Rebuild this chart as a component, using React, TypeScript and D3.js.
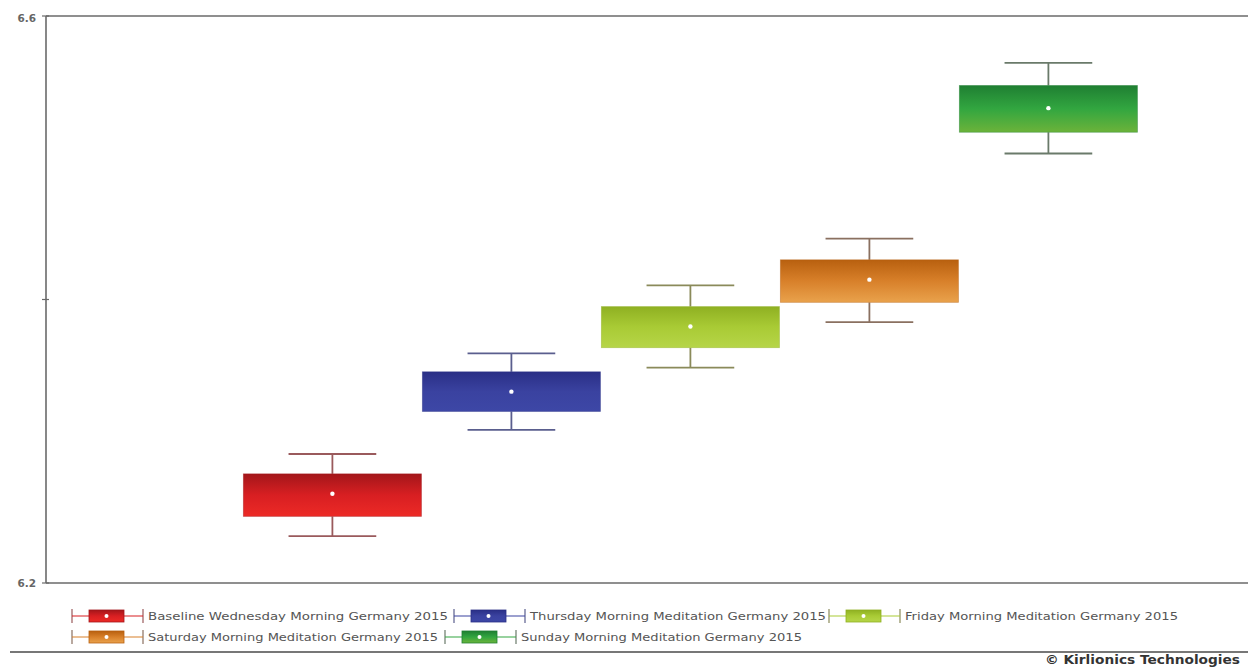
import React from "react";
import * as d3 from "d3";

const categories = [
  "Baseline Wednesday Morning Germany 2015",
  "Thursday Morning Meditation Germany 2015",
  "Friday Morning Meditation Germany 2015",
  "Saturday Morning Meditation Germany 2015",
  "Sunday Morning Meditation Germany 2015",
];
const whiskerLow = [6.233, 6.308, 6.352, 6.384, 6.503];
const q1 = [6.247, 6.321, 6.366, 6.398, 6.518];
const mean = [6.263, 6.335, 6.381, 6.414, 6.535];
const q3 = [6.277, 6.349, 6.395, 6.428, 6.551];
const whiskerHigh = [6.291, 6.362, 6.41, 6.443, 6.567];
const yTicks = [6.2, 6.4, 6.6];
const yTickLabels = ["6.2", "", "6.6"];

const topColors = ["#a3161a", "#2a2f86", "#8fb022", "#b8600f", "#1f7f32"];
const midColors = ["#d81f22", "#3a42a0", "#a9cb35", "#d8802a", "#32a640"];
const botColors = ["#ec2a26", "#3d47a6", "#b6d548", "#e9a24c", "#6cb33a"];
const whiskerColors = ["#9a5a5c", "#5a5e8e", "#8a8a5a", "#8a7060", "#6a7a6a"];

// legend layout: rows of item indices
const legendRows = [[0, 1, 2], [3, 4]];
const legendItemX = [[72, 454, 829], [72, 445]];
const legendTextLen = [[300, 296, 273], [290, 281]];

export default function App() {
  const W = 1248;
  const H = 667;
  const x = d3.scaleLinear().domain([-1.6, 5.2]).range([46, 46 + 6.8 * 179]);
  const y = d3.scaleLinear().domain([6.2, 6.6]).range([583, 16]);
  const step = x(1) - x(0);
  const boxW = step * 0.995;
  const capW = step * 0.49;

  return (
    <svg width={W} height={H} style={{ display: "block", position: "absolute", left: 0, top: 0 }}>
      <defs>
        {categories.map((_, i) => (
          <linearGradient key={i} id={`g${i}`} x1="0" y1="0" x2="0" y2="1">
            <stop offset="0%" stopColor={topColors[i]} />
            <stop offset="50%" stopColor={midColors[i]} />
            <stop offset="100%" stopColor={botColors[i]} />
          </linearGradient>
        ))}
      </defs>
      <rect x={0} y={0} width={W} height={H} fill="#fff" />

      {/* frame */}
      <line x1={46} x2={W} y1={y(6.6)} y2={y(6.6)} stroke="#6a6a6a" strokeWidth={1.6} />
      <line x1={46} x2={W} y1={y(6.2)} y2={y(6.2)} stroke="#6a6a6a" strokeWidth={1.6} />
      <line x1={46} x2={46} y1={y(6.6)} y2={y(6.2)} stroke="#6a6a6a" strokeWidth={1.6} />
      {yTicks.map((t, i) => (
        <g key={t}>
          <line x1={42} x2={49} y1={y(t)} y2={y(t)} stroke="#6a6a6a" strokeWidth={1.2} />
          {yTickLabels[i] && (
            <text x={36} y={y(t) + (i === 0 ? 4 : 6)} textAnchor="end" fontFamily="DejaVu Sans, sans-serif" fontSize={10.5} fontWeight="bold" fill="#666">
              {yTickLabels[i]}
            </text>
          )}
        </g>
      ))}

      {/* boxes */}
      {categories.map((c, i) => {
        const cx = x(i);
        return (
          <g key={c}>
            <line x1={cx} x2={cx} y1={y(whiskerHigh[i])} y2={y(q3[i])} stroke={whiskerColors[i]} strokeWidth={1.8} />
            <line x1={cx} x2={cx} y1={y(q1[i])} y2={y(whiskerLow[i])} stroke={whiskerColors[i]} strokeWidth={1.8} />
            <line x1={cx - capW / 2} x2={cx + capW / 2} y1={y(whiskerHigh[i])} y2={y(whiskerHigh[i])} stroke={whiskerColors[i]} strokeWidth={1.8} />
            <line x1={cx - capW / 2} x2={cx + capW / 2} y1={y(whiskerLow[i])} y2={y(whiskerLow[i])} stroke={whiskerColors[i]} strokeWidth={1.8} />
            <rect x={cx - boxW / 2} y={y(q3[i])} width={boxW} height={y(q1[i]) - y(q3[i])} fill={`url(#g${i})`} stroke={topColors[i]} strokeOpacity={0.5} strokeWidth={0.8} />
            <circle cx={cx} cy={y(mean[i])} r={2.2} fill="#fff" />
          </g>
        );
      })}

      {/* legend */}
      {legendRows.map((row, r) =>
        row.map((idx, k) => {
          const lx = legendItemX[r][k];
          const ly = 616 + r * 21;
          return (
            <g key={idx}>
              <line x1={lx} x2={lx} y1={ly - 7} y2={ly + 7} stroke={whiskerColors[idx]} strokeWidth={1.2} />
              <line x1={lx + 71} x2={lx + 71} y1={ly - 7} y2={ly + 7} stroke={whiskerColors[idx]} strokeWidth={1.2} />
              <line x1={lx} x2={lx + 71} y1={ly} y2={ly} stroke={midColors[idx]} strokeWidth={1.2} />
              <rect x={lx + 17} y={ly - 6} width={35} height={12} fill={`url(#g${idx})`} stroke={topColors[idx]} strokeWidth={0.8} />
              <circle cx={lx + 34.5} cy={ly} r={2} fill="#fff" />
              <text x={lx + 76} y={ly + 4} fontFamily="DejaVu Sans, sans-serif" fontSize={11} fill="#555" textLength={legendTextLen[r][k]} lengthAdjust="spacingAndGlyphs">
                {categories[idx]}
              </text>
            </g>
          );
        })
      )}

      <line x1={10} x2={W} y1={652} y2={652} stroke="#777" strokeWidth={1.8} />
      <text x={1045} y={664} fontFamily="DejaVu Sans, sans-serif" fontSize={11.5} fontWeight="bold" fill="#333" textLength={195} lengthAdjust="spacingAndGlyphs">
        © Kirlionics Technologies
      </text>
    </svg>
  );
}
